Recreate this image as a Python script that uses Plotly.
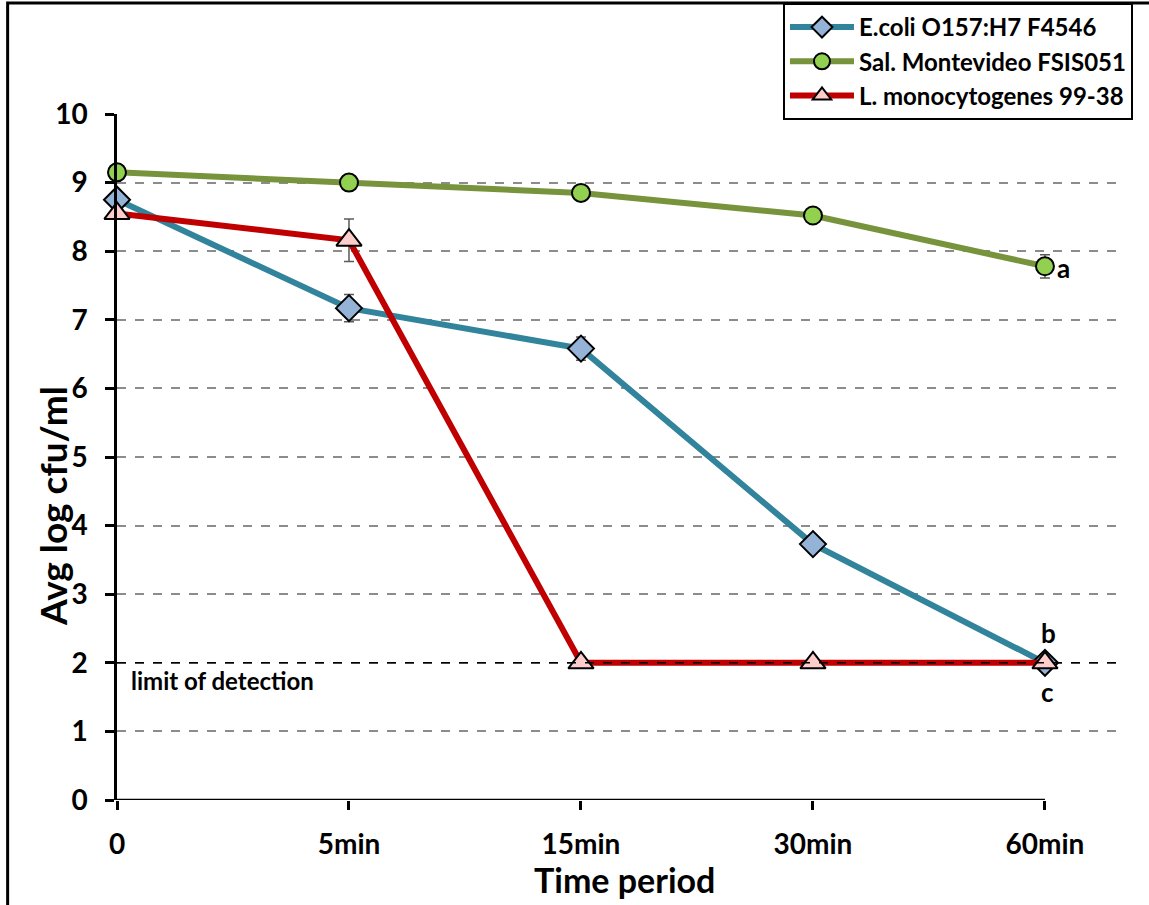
import plotly.graph_objects as go

# Sampling times after treatment
times = ["0", "5min", "15min", "30min", "60min"]

# Average log cfu/ml per strain
ecoli = [8.75, 7.17, 6.58, 3.73, 2.0]
ecoli_err = [None, 0.20, 0.17, None, None]
salmonella = [9.15, 9.0, 8.85, 8.52, 7.78]
salmonella_err = [None, None, None, None, 0.17]
listeria = [8.55, 8.16, 2.0, 2.0, 2.0]
listeria_err = [None, 0.31, None, None, None]

detection_limit = 2.0
y_ticks = list(range(0, 11))

FONT = "Lato"
err_style = dict(type="data", color="#5a5a5a", thickness=1.5, width=5)

fig = go.Figure()

fig.add_trace(go.Scatter(
    x=times, y=ecoli, name="E.coli O157:H7 F4546",
    mode="lines+markers",
    line=dict(color="#31849B", width=6),
    marker=dict(symbol="diamond", size=20, color="#95B3D7",
                line=dict(color="black", width=2)),
    error_y=dict(array=ecoli_err, **err_style),
    cliponaxis=False,
))
fig.add_trace(go.Scatter(
    x=times, y=salmonella, name="Sal. Montevideo FSIS051",
    mode="lines+markers",
    line=dict(color="#77933C", width=6),
    marker=dict(symbol="circle", size=18, color="#92D050",
                line=dict(color="black", width=2)),
    error_y=dict(array=salmonella_err, **err_style),
    cliponaxis=False,
))
fig.add_trace(go.Scatter(
    x=times, y=listeria, name="L. monocytogenes 99-38",
    mode="lines+markers",
    line=dict(color="#C00000", width=6),
    marker=dict(symbol="triangle-up", size=22, color="#FFCCCC",
                line=dict(color="black", width=2)),
    error_y=dict(array=listeria_err, **err_style),
    cliponaxis=False,
))

shapes = [
    # detection limit
    dict(type="line", xref="paper", yref="y", x0=0, x1=1,
         y0=detection_limit, y1=detection_limit,
         line=dict(color="black", width=1.5, dash="dash"), layer="above"),
    # x axis line, ending at the last sampling time
    dict(type="line", xref="x", yref="y", x0=0, x1=len(times) - 1, y0=0, y1=0,
         line=dict(color="black", width=2.5), layer="above"),
    # outer frame
    dict(type="rect", xref="paper", yref="paper",
         x0=-0.1085, x1=1.2, y0=-0.3, y1=1.1618,
         line=dict(color="black", width=3), layer="above"),
]

bold = dict(family=FONT, color="black", weight="bold")

annotations = [
    dict(text="limit of detection", xref="x", yref="y", x=0.05, y=detection_limit,
         xanchor="left", yanchor="top", yshift=-1, showarrow=False,
         font=dict(size=24, **bold)),
    dict(text="a", xref="x", yref="y", x=times[4], y=salmonella[4],
         xanchor="left", yanchor="middle", xshift=10, yshift=-2, showarrow=False,
         font=dict(size=26, **bold)),
    dict(text="b", xref="x", yref="y", x=times[4], y=ecoli[4],
         xanchor="center", yanchor="bottom", xshift=4, yshift=12, showarrow=False,
         font=dict(size=26, **bold)),
    dict(text="c", xref="x", yref="y", x=times[4], y=listeria[4],
         xanchor="center", yanchor="top", xshift=3, yshift=-11, showarrow=False,
         font=dict(size=26, **bold)),
    dict(text="Avg log cfu/ml", xref="paper", yref="paper",
         x=-0.0635, y=0.4286, textangle=-90, showarrow=False,
         xanchor="center", yanchor="middle",
         font=dict(size=37, **bold)),
    dict(text="Time period", xref="paper", yref="paper",
         x=0.503, y=-0.1166, showarrow=False, xanchor="center", yanchor="middle",
         font=dict(size=34, **bold)),
]

fig.update_layout(
    width=1149, height=905,
    margin=dict(l=117, r=24, t=114, b=105, autoexpand=False),
    paper_bgcolor="white", plot_bgcolor="white",
    font=dict(family=FONT, color="black"),
    showlegend=True,
    legend=dict(
        x=0.6607, y=1.1618, xanchor="left", yanchor="top",
        bgcolor="white", bordercolor="black", borderwidth=2,
        font=dict(size=24, **bold),
        tracegroupgap=0, itemwidth=64,
    ),
    shapes=shapes,
    annotations=annotations,
)

fig.update_xaxes(
    type="category", categoryorder="array", categoryarray=times,
    range=[0, 4.345], showgrid=False, zeroline=False, showline=False,
    ticks="outside", ticklen=9, tickwidth=2.5, tickcolor="black",
    ticklabelstandoff=10,
    tickfont=dict(size=28, **bold),
)
fig.update_yaxes(
    range=[0, 10], tickvals=y_ticks, ticktext=[str(v) for v in y_ticks],
    showgrid=True, gridcolor="#8c8c8c", gridwidth=1.5, griddash="dash",
    zeroline=False, showline=True, linecolor="black", linewidth=2.5,
    ticks="outside", ticklen=9, tickwidth=2.5, tickcolor="black",
    ticklabelstandoff=12,
    tickfont=dict(size=28, **bold),
)

fig.write_html("out.html")
